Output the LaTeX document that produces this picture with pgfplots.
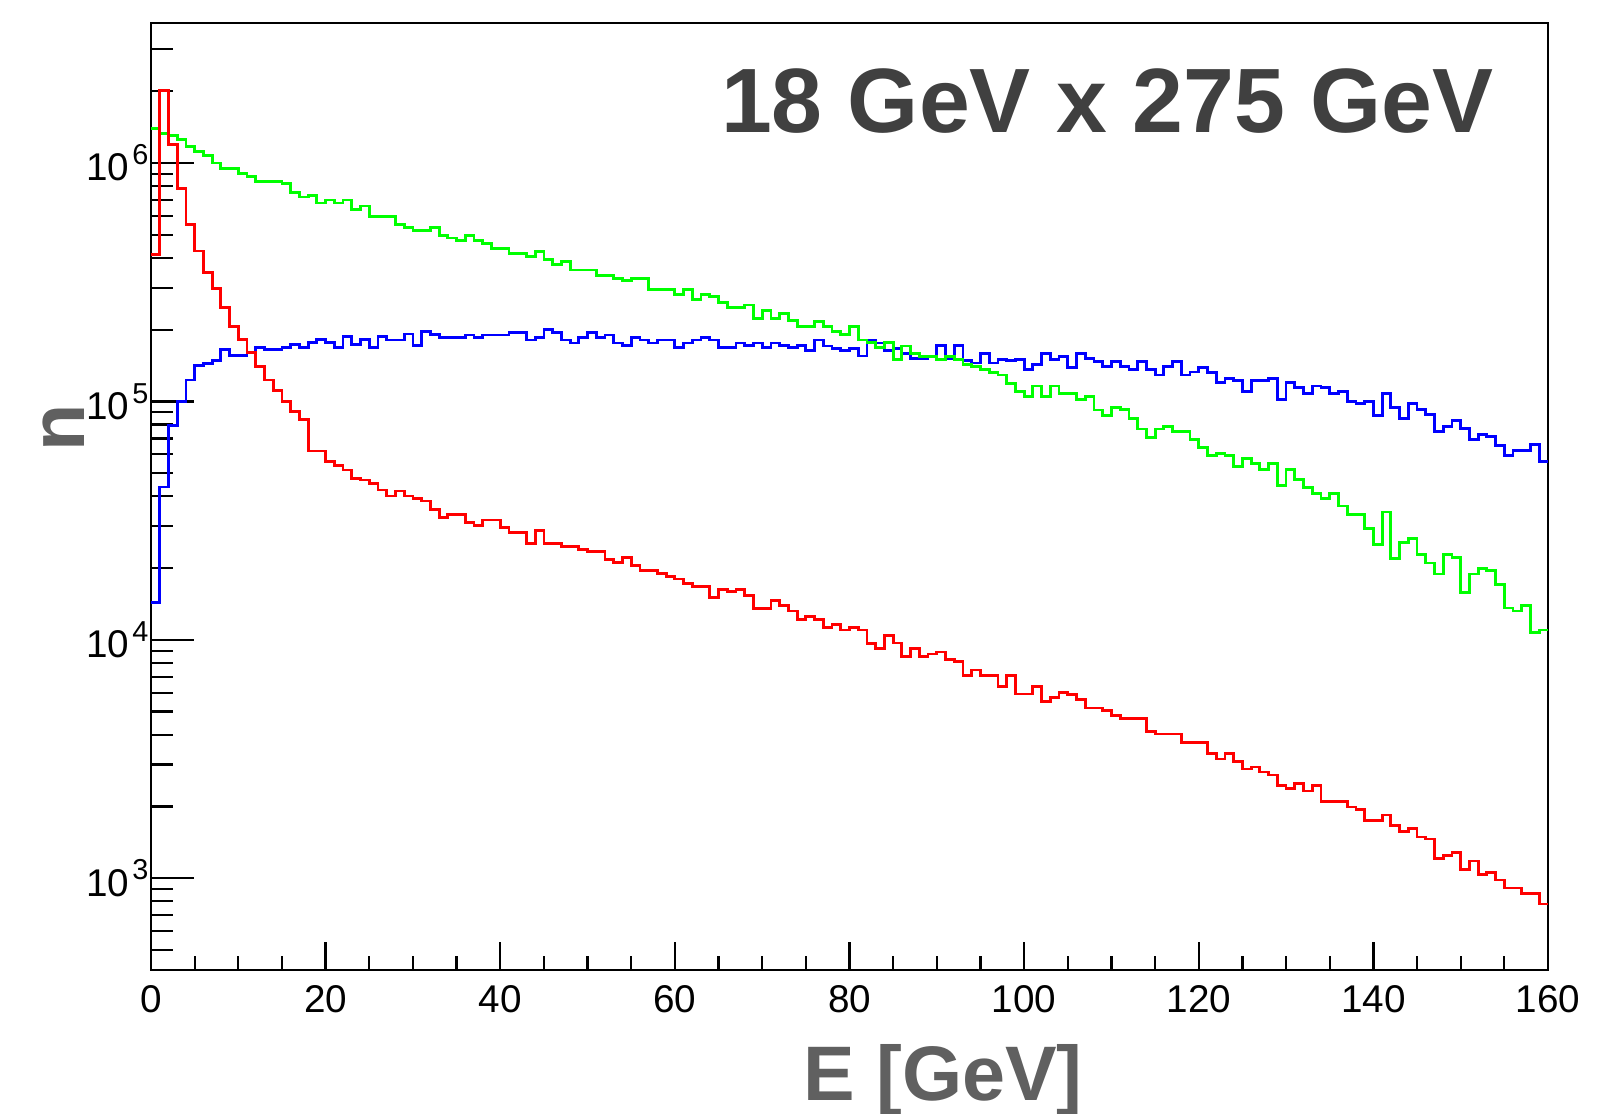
\documentclass[border=0pt]{standalone}
\usepackage{fontspec}
\setmainfont{Liberation Sans}
\usepackage{pgfplots}
\usepackage{pgfplotstable}
\pgfplotsset{compat=1.18}

\definecolor{titlegray}{RGB}{64,64,64}
\definecolor{labelgray}{RGB}{96,96,96}
\definecolor{histred}{RGB}{255,0,0}
\definecolor{histgreen}{RGB}{0,255,0}
\definecolor{histblue}{RGB}{0,0,255}

% power-of-ten tick label with a raised exponent
\newcommand{\decade}[1]{10\kern0.08em\raisebox{0.42em}{\fontsize{8.2}{10}\selectfont #1}}

% Energy spectra, 1 GeV bins (low edge); last row closes the final bin at 160 GeV
\pgfplotstableread{
x red green blue
0 4.14e5 1.40e6 1.43e4
1 2.01e6 1.33e6 4.38e4
2 1.20e6 1.30e6 7.95e4
3 7.8e5 1.26e6 1.0e5
4 5.54e5 1.17e6 1.23e5
5 4.28e5 1.12e6 1.41e5
6 3.47e5 1.08e6 1.44e5
7 2.98e5 1.0e6 1.48e5
8 2.47e5 9.5e5 1.65e5
9 2.07e5 9.5e5 1.56e5
10 1.82e5 9.05e5 1.56e5
11 1.60e5 8.8e5 1.60e5
12 1.40e5 8.4e5 1.68e5
13 1.23e5 8.4e5 1.65e5
14 1.11e5 8.4e5 1.65e5
15 1.0e5 8.2e5 1.69e5
16 9.1e4 7.5e5 1.73e5
17 8.4e4 7.2e5 1.68e5
18 6.2e4 7.3e5 1.77e5
19 6.2e4 6.8e5 1.82e5
20 5.6e4 7.0e5 1.77e5
21 5.4e4 6.8e5 1.68e5
22 5.16e4 7.0e5 1.87e5
23 4.75e4 6.4e5 1.73e5
24 4.68e4 6.6e5 1.82e5
25 4.53e4 5.97e5 1.68e5
26 4.25e4 5.95e5 1.87e5
27 4.01e4 5.95e5 1.81e5
28 4.21e4 5.53e5 1.81e5
29 4.01e4 5.38e5 1.92e5
30 3.92e4 5.23e5 1.72e5
31 3.82e4 5.23e5 1.96e5
32 3.52e4 5.38e5 1.91e5
33 3.27e4 4.98e5 1.85e5
34 3.36e4 4.85e5 1.85e5
35 3.36e4 4.73e5 1.85e5
36 3.10e4 4.98e5 1.90e5
37 3.02e4 4.73e5 1.85e5
38 3.18e4 4.61e5 1.90e5
39 3.18e4 4.38e5 1.90e5
40 2.95e4 4.38e5 1.90e5
41 2.81e4 4.16e5 1.95e5
42 2.81e4 4.16e5 1.95e5
43 2.53e4 4.04e5 1.81e5
44 2.87e4 4.27e5 1.85e5
45 2.53e4 3.94e5 2.01e5
46 2.53e4 3.75e5 1.95e5
47 2.47e4 3.85e5 1.81e5
48 2.47e4 3.56e5 1.76e5
49 2.40e4 3.56e5 1.85e5
50 2.34e4 3.56e5 1.95e5
51 2.34e4 3.38e5 1.85e5
52 2.17e4 3.38e5 1.90e5
53 2.11e4 3.29e5 1.76e5
54 2.22e4 3.21e5 1.72e5
55 2.05e4 3.29e5 1.85e5
56 1.95e4 3.29e5 1.81e5
57 1.95e4 2.96e5 1.76e5
58 1.90e4 2.96e5 1.81e5
59 1.85e4 2.96e5 1.81e5
60 1.80e4 2.82e5 1.68e5
61 1.72e4 2.96e5 1.76e5
62 1.67e4 2.67e5 1.81e5
63 1.67e4 2.82e5 1.85e5
64 1.50e4 2.75e5 1.81e5
65 1.63e4 2.60e5 1.68e5
66 1.60e4 2.48e5 1.68e5
67 1.63e4 2.48e5 1.76e5
68 1.54e4 2.54e5 1.72e5
69 1.35e4 2.22e5 1.76e5
70 1.35e4 2.40e5 1.68e5
71 1.46e4 2.22e5 1.76e5
72 1.39e4 2.34e5 1.72e5
73 1.32e4 2.18e5 1.68e5
74 1.22e4 2.06e5 1.72e5
75 1.25e4 2.06e5 1.64e5
76 1.22e4 2.16e5 1.81e5
77 1.13e4 2.06e5 1.71e5
78 1.16e4 1.96e5 1.67e5
79 1.10e4 1.91e5 1.63e5
80 1.13e4 2.06e5 1.67e5
81 1.10e4 1.81e5 1.55e5
82 9.63e3 1.77e5 1.81e5
83 9.18e3 1.68e5 1.76e5
84 1.045e4 1.77e5 1.63e5
85 9.7e3 1.50e5 1.67e5
86 8.5e3 1.71e5 1.59e5
87 9.18e3 1.59e5 1.51e5
88 8.5e3 1.54e5 1.51e5
89 8.72e3 1.54e5 1.55e5
90 8.89e3 1.50e5 1.72e5
91 8.26e3 1.54e5 1.51e5
92 8.08e3 1.50e5 1.72e5
93 7.10e3 1.43e5 1.48e5
94 7.47e3 1.40e5 1.45e5
95 7.10e3 1.36e5 1.59e5
96 7.10e3 1.32e5 1.45e5
97 6.35e3 1.29e5 1.50e5
98 7.10e3 1.19e5 1.48e5
99 5.93e3 1.10e5 1.50e5
100 5.93e3 1.05e5 1.36e5
101 6.37e3 1.16e5 1.43e5
102 5.5e3 1.05e5 1.59e5
103 5.74e3 1.16e5 1.50e5
104 6.03e3 1.08e5 1.54e5
105 5.9e3 1.08e5 1.39e5
106 5.6e3 1.02e5 1.59e5
107 5.18e3 1.05e5 1.51e5
108 5.18e3 9.2e4 1.47e5
109 5.05e3 8.73e4 1.40e5
110 4.81e3 9.46e4 1.47e5
111 4.66e3 9.22e4 1.40e5
112 4.66e3 8.51e4 1.36e5
113 4.66e3 7.66e4 1.47e5
114 4.13e3 7.06e4 1.36e5
115 4.03e3 7.66e4 1.29e5
116 4.03e3 7.86e4 1.40e5
117 4.03e3 7.5e4 1.47e5
118 3.72e3 7.5e4 1.29e5
119 3.72e3 6.9e4 1.33e5
120 3.72e3 6.41e4 1.39e5
121 3.34e3 5.91e4 1.32e5
122 3.16e3 6.07e4 1.20e5
123 3.34e3 5.91e4 1.25e5
124 3.09e3 5.33e4 1.22e5
125 2.87e3 5.77e4 1.105e5
126 2.93e3 5.50e4 1.22e5
127 2.79e3 5.2e4 1.22e5
128 2.71e3 5.50e4 1.25e5
129 2.44e3 4.45e4 1.02e5
130 2.38e3 5.2e4 1.20e5
131 2.49e3 4.72e4 1.14e5
132 2.32e3 4.36e4 1.08e5
133 2.44e3 4.11e4 1.16e5
134 2.10e3 3.91e4 1.14e5
135 2.10e3 4.11e4 1.08e5
136 2.10e3 3.64e4 1.105e5
137 1.99e3 3.36e4 1.0e5
138 1.94e3 3.36e4 9.78e4
139 1.74e3 2.93e4 1.0e5
140 1.74e3 2.52e4 8.73e4
141 1.84e3 3.44e4 1.08e5
142 1.66e3 2.20e4 9.46e4
143 1.57e3 2.57e4 8.51e4
144 1.62e3 2.66e4 9.78e4
145 1.49e3 2.28e4 9.25e4
146 1.46e3 2.10e4 8.79e4
147 1.21e3 1.89e4 7.50e4
148 1.245e3 2.28e4 7.87e4
149 1.28e3 2.22e4 8.32e4
150 1.09e3 1.58e4 7.73e4
151 1.18e3 1.89e4 6.95e4
152 1.035e3 1.99e4 7.25e4
153 1.06e3 1.95e4 7.11e4
154 983 1.70e4 6.56e4
155 910 1.36e4 5.91e4
156 910 1.32e4 6.25e4
157 865 1.39e4 6.25e4
158 865 1.07e4 6.58e4
159 780 1.10e4 5.6e4
160 780 1.10e4 5.6e4
}\histdata

\begin{document}
\begin{tikzpicture}
% frame, log y axis and the three histograms
\begin{axis}[
  name=main,
  at={(0,0)}, anchor=south west,
  scale only axis,
  width=139.7mm, height=94.7mm,
  xmin=0, xmax=160,
  ymode=log, ymin=412, ymax=3.87e6,
  axis line style={line width=0.65pt},
  xtick=\empty,
  ytick={1000,10000,100000,1000000},
  yticklabels={\decade{3},\decade{4},\decade{5},\decade{6}},
  minor ytick={500,600,700,800,900,2000,3000,4000,5000,6000,7000,8000,9000,
    20000,30000,40000,50000,60000,70000,80000,90000,
    200000,300000,400000,500000,600000,700000,800000,900000,2000000,3000000},
  ytick pos=left,
  tick align=inside,
  major tick length=4.3mm,
  minor tick length=2.2mm,
  tick style={black, line width=0.65pt},
  yticklabel style={font=\fontsize{11}{13}\selectfont, anchor=base east, xshift=2.8pt, yshift=-5.1pt},
  xlabel={E [GeV]},
  xlabel style={at={(axis description cs:0.567,-0.1373)}, anchor=base,
    font=\bfseries\fontsize{22}{26}\selectfont, text=labelgray},
  ylabel={n},
  ylabel style={at={(axis description cs:-0.0623,0.572)}, anchor=center,
    font=\bfseries\fontsize{22}{26}\selectfont, text=labelgray},
]
\addplot[const plot, histblue, line width=0.8pt] table[x=x, y=blue] {\histdata};
\addplot[const plot, histgreen, line width=0.8pt] table[x=x, y=green] {\histdata};
\addplot[const plot, histred, line width=0.8pt] table[x=x, y=red] {\histdata};
\node[anchor=base east, inner sep=0pt, font=\bfseries\fontsize{26}{30}\selectfont, text=titlegray]
  at (rel axis cs:0.9613,0.8843) {18 GeV x 275 GeV};
\end{axis}
% x ticks, which are shorter than the y ticks
\begin{axis}[
  at={(0,0)}, anchor=south west,
  scale only axis,
  width=139.7mm, height=94.7mm,
  xmin=0, xmax=160,
  ymode=log, ymin=412, ymax=3.87e6,
  axis line style={draw=none},
  ytick=\empty,
  xtick={0,20,40,60,80,100,120,140,160},
  xticklabels={0,20,40,60,80,100,120,140,160},
  minor x tick num=3,
  xtick pos=left,
  tick align=inside,
  major tick length=2.8mm,
  minor tick length=1.4mm,
  tick style={black, line width=0.65pt},
  xticklabel style={font=\fontsize{11}{13}\selectfont, yshift=-1.0pt},
]
\end{axis}
\pgfresetboundingbox
\useasboundingbox (-15.1mm,-14.3mm) rectangle (144.8mm,97.0mm);
\end{tikzpicture}
\end{document}
